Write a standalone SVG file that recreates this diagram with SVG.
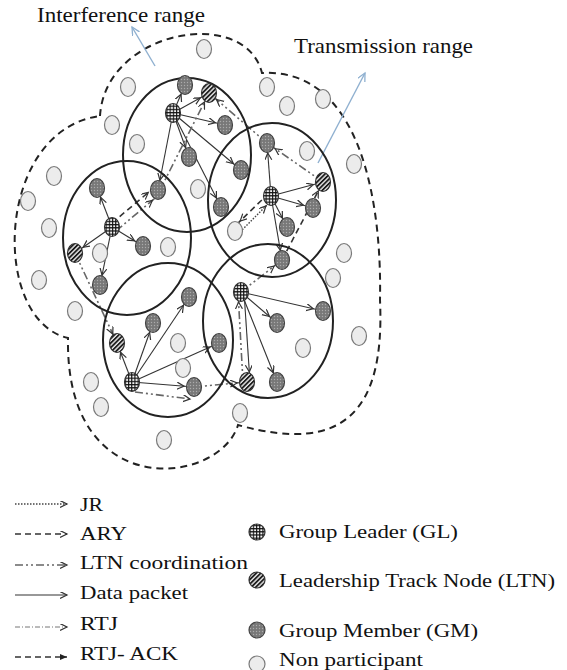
<svg xmlns="http://www.w3.org/2000/svg" width="567" height="670" viewBox="0 0 567 670">
<style>
.np{fill:#ececec;stroke:#7a7a7a;stroke-width:1.2}
.gm{fill:url(#pGM);stroke:#444;stroke-width:1.2}
.gl{fill:url(#pGL);stroke:#333;stroke-width:1.2}
.ltn{fill:url(#pLTN);stroke:#333;stroke-width:1.2}
.cl{fill:none;stroke:#222;stroke-width:2}
.s{stroke:#333;stroke-width:1.1;fill:none}
.d{stroke:#333;stroke-width:1.6;stroke-dasharray:6 4;fill:none}
.dd{stroke:#666;stroke-width:1.6;stroke-dasharray:8 3 2 3 2 3;fill:none}
.jr{stroke:#444;stroke-width:1.4;stroke-dasharray:1.5 1.5;fill:none}
.rtj{stroke:#777;stroke-width:1;stroke-dasharray:5 2 1 2;fill:none}
.blue{stroke:#8fb0d0;stroke-width:1.4;fill:none}
text{font-family:"Liberation Serif","Times New Roman",serif;fill:#111}
.t1{font-size:21px}
.t2{font-size:19.5px}
</style>
<defs>
<pattern id="pGL" width="3.2" height="3.2" patternUnits="userSpaceOnUse"><rect width="3.2" height="3.2" fill="#f4f4f4"/><path d="M0,0.5H3.2M0.5,0V3.2" stroke="#111" stroke-width="1.2"/></pattern>
<pattern id="pLTN" width="3.2" height="3.2" patternUnits="userSpaceOnUse" patternTransform="rotate(45)"><rect width="3.2" height="3.2" fill="#e8e8e8"/><path d="M0.9,0V3.2" stroke="#1a1a1a" stroke-width="1.8"/></pattern>
<pattern id="pGM" width="3" height="3" patternUnits="userSpaceOnUse"><rect width="3" height="3" fill="#787878"/><circle cx="1.5" cy="1.5" r="0.7" fill="#ababab"/></pattern>
<marker id="a" markerUnits="userSpaceOnUse" markerWidth="20" markerHeight="8" refX="17" refY="3.5" orient="auto"><path d="M0,0L7,3.5L0,7" fill="none" stroke="#333" stroke-width="1.2"/></marker>
<marker id="a0" markerUnits="userSpaceOnUse" markerWidth="9" markerHeight="8" refX="7" refY="3.5" orient="auto"><path d="M0,0L7,3.5L0,7" fill="none" stroke="#333" stroke-width="1.2"/></marker>
<marker id="af" markerUnits="userSpaceOnUse" markerWidth="9" markerHeight="8" refX="7" refY="3.5" orient="auto"><path d="M0,0.5L7,3.5L0,6.5Z" fill="#222"/></marker>
<marker id="ab" markerUnits="userSpaceOnUse" markerWidth="10" markerHeight="10" refX="8" refY="4" orient="auto"><path d="M0,0L8,4L0,8" fill="none" stroke="#8fb0d0" stroke-width="1.3"/></marker>
</defs>
<rect width="567" height="670" fill="#fff"/>

<g id="interference-boundary">
<path d="M100,116 C105,30 245,5 262,73 C360,68 382,200 380,300 C385,410 345,455 238,425 C220,485 65,505 68,338 C-10,320 -5,130 100,116 Z" fill="none" stroke="#222" stroke-width="2" stroke-dasharray="7 5"/>
</g>

<g id="annotations" font-family="'Liberation Serif', 'Times New Roman', serif">
<line class="blue" x1="155" y1="66" x2="132" y2="27" marker-end="url(#ab)"/>
<line class="blue" x1="318" y1="163" x2="365" y2="73" marker-end="url(#ab)"/>
<text class="t1" x="37" y="22" textLength="168" lengthAdjust="spacingAndGlyphs">Interference range</text>
<text class="t1" x="294" y="53" textLength="179" lengthAdjust="spacingAndGlyphs">Transmission range</text>
</g>

<g id="connectors">
<g marker-end="url(#a)">
<line class="s" x1="173" y1="113" x2="185" y2="85"/>
<line class="s" x1="173" y1="113" x2="209" y2="93"/>
<line class="s" x1="173" y1="113" x2="225" y2="125"/>
<line class="s" x1="173" y1="113" x2="189" y2="157"/>
<line class="s" x1="173" y1="113" x2="241" y2="170"/>
<line class="s" x1="173" y1="113" x2="221" y2="207"/>
<line class="s" x1="173" y1="113" x2="158" y2="190"/>
<line class="s" x1="112" y1="227" x2="97" y2="188"/>
<line class="s" x1="112" y1="227" x2="143" y2="246"/>
<line class="s" x1="112" y1="227" x2="75" y2="253"/>
<line class="s" x1="112" y1="227" x2="100" y2="285"/>
<line class="s" x1="271" y1="196" x2="267" y2="143"/>
<line class="s" x1="271" y1="196" x2="323" y2="182"/>
<line class="s" x1="271" y1="196" x2="313" y2="208"/>
<line class="s" x1="271" y1="196" x2="287" y2="227"/>
<line class="s" x1="271" y1="196" x2="282" y2="260"/>
<line class="s" x1="132" y1="382" x2="117" y2="343"/>
<line class="s" x1="132" y1="382" x2="153" y2="323"/>
<line class="s" x1="132" y1="382" x2="189" y2="297"/>
<line class="s" x1="132" y1="382" x2="219" y2="343"/>
<line class="s" x1="132" y1="382" x2="194" y2="387"/>
<line class="s" x1="241" y1="292" x2="323" y2="311"/>
<line class="s" x1="241" y1="292" x2="277" y2="323"/>
<line class="s" x1="241" y1="292" x2="277" y2="382"/>
<line class="s" x1="244" y1="292" x2="250" y2="382"/>
<line class="d" x1="112" y1="223" x2="156" y2="186"/>
<line class="d" x1="269" y1="193" x2="233" y2="228"/>
<line class="d" x1="282" y1="260" x2="323" y2="182"/>
<line class="jr" x1="238" y1="234" x2="273" y2="199"/>
<line class="dd" x1="116" y1="231" x2="160" y2="194"/>
<line class="dd" x1="160" y1="190" x2="209" y2="93"/>
<line class="dd" x1="267" y1="143" x2="209" y2="93"/>
<line class="dd" x1="323" y1="182" x2="267" y2="143"/>
<line class="dd" x1="75" y1="253" x2="117" y2="343"/>
<line class="dd" x1="243" y1="382" x2="238" y2="292"/>
<line class="dd" x1="241" y1="292" x2="282" y2="260"/>
<line class="dd" x1="194" y1="387" x2="247" y2="382"/>
</g>
<line class="dd" x1="135" y1="392" x2="190" y2="399" marker-end="url(#a0)"/>
</g>

<g id="clusters">
<ellipse class="cl" cx="187" cy="155" rx="64" ry="77"/>
<ellipse class="cl" cx="127" cy="238" rx="64" ry="77"/>
<ellipse class="cl" cx="272" cy="200" rx="64" ry="77"/>
<ellipse class="cl" cx="168" cy="340" rx="65" ry="77"/>
<ellipse class="cl" cx="268" cy="321" rx="65" ry="77"/>
</g>

<g id="nodes">
<g id="np1"><ellipse class="np" cx="204" cy="49" rx="7.5" ry="9.5"/></g>
<g id="np2"><ellipse class="np" cx="128" cy="87" rx="7.5" ry="9.5"/></g>
<g id="np3"><ellipse class="np" cx="112" cy="125" rx="7.5" ry="9.5"/></g>
<g id="np4"><ellipse class="np" cx="137" cy="144" rx="7.5" ry="9.5"/></g>
<g id="np5"><ellipse class="np" cx="54" cy="176" rx="7.5" ry="9.5"/></g>
<g id="np6"><ellipse class="np" cx="28" cy="201" rx="7.5" ry="9.5"/></g>
<g id="np7"><ellipse class="np" cx="49" cy="228" rx="7.5" ry="9.5"/></g>
<g id="np8"><ellipse class="np" cx="198" cy="189" rx="7.5" ry="9.5"/></g>
<g id="np9"><ellipse class="np" cx="267" cy="87" rx="7.5" ry="9.5"/></g>
<g id="np10"><ellipse class="np" cx="287" cy="106" rx="7.5" ry="9.5"/></g>
<g id="np11"><ellipse class="np" cx="323" cy="99" rx="7.5" ry="9.5"/></g>
<g id="np12"><ellipse class="np" cx="307" cy="151" rx="7.5" ry="9.5"/></g>
<g id="np13"><ellipse class="np" cx="354" cy="164" rx="7.5" ry="9.5"/></g>
<g id="np14"><ellipse class="np" cx="235" cy="231" rx="7.5" ry="9.5"/></g>
<g id="np15"><ellipse class="np" cx="168" cy="247" rx="7.5" ry="9.5"/></g>
<g id="np16"><ellipse class="np" cx="100" cy="253" rx="7.5" ry="9.5"/></g>
<g id="np17"><ellipse class="np" cx="39" cy="280" rx="7.5" ry="9.5"/></g>
<g id="np18"><ellipse class="np" cx="75" cy="311" rx="7.5" ry="9.5"/></g>
<g id="np19"><ellipse class="np" cx="91" cy="382" rx="7.5" ry="9.5"/></g>
<g id="np20"><ellipse class="np" cx="101" cy="407" rx="7.5" ry="9.5"/></g>
<g id="np21"><ellipse class="np" cx="164" cy="440" rx="7.5" ry="9.5"/></g>
<g id="np22"><ellipse class="np" cx="178" cy="343" rx="7.5" ry="9.5"/></g>
<g id="np23"><ellipse class="np" cx="183" cy="368" rx="7.5" ry="9.5"/></g>
<g id="np24"><ellipse class="np" cx="240" cy="413" rx="7.5" ry="9.5"/></g>
<g id="np25"><ellipse class="np" cx="344" cy="253" rx="7.5" ry="9.5"/></g>
<g id="np26"><ellipse class="np" cx="333" cy="278" rx="7.5" ry="9.5"/></g>
<g id="np27"><ellipse class="np" cx="359" cy="336" rx="7.5" ry="9.5"/></g>
<g id="np28"><ellipse class="np" cx="303" cy="348" rx="7.5" ry="9.5"/></g>

<g id="gm1"><ellipse class="gm" cx="185" cy="85" rx="7.5" ry="9.5"/></g>
<g id="gm2"><ellipse class="gm" cx="225" cy="125" rx="7.5" ry="9.5"/></g>
<g id="gm3"><ellipse class="gm" cx="189" cy="157" rx="7.5" ry="9.5"/></g>
<g id="gm4"><ellipse class="gm" cx="241" cy="170" rx="7.5" ry="9.5"/></g>
<g id="gm5"><ellipse class="gm" cx="221" cy="207" rx="7.5" ry="9.5"/></g>
<g id="gm6"><ellipse class="gm" cx="158" cy="190" rx="7.5" ry="9.5"/></g>
<g id="gm7"><ellipse class="gm" cx="97" cy="188" rx="7.5" ry="9.5"/></g>
<g id="gm8"><ellipse class="gm" cx="143" cy="246" rx="7.5" ry="9.5"/></g>
<g id="gm9"><ellipse class="gm" cx="100" cy="285" rx="7.5" ry="9.5"/></g>
<g id="gm10"><ellipse class="gm" cx="267" cy="143" rx="7.5" ry="9.5"/></g>
<g id="gm11"><ellipse class="gm" cx="313" cy="208" rx="7.5" ry="9.5"/></g>
<g id="gm12"><ellipse class="gm" cx="287" cy="227" rx="7.5" ry="9.5"/></g>
<g id="gm13"><ellipse class="gm" cx="282" cy="260" rx="7.5" ry="9.5"/></g>
<g id="gm14"><ellipse class="gm" cx="153" cy="323" rx="7.5" ry="9.5"/></g>
<g id="gm15"><ellipse class="gm" cx="189" cy="297" rx="7.5" ry="9.5"/></g>
<g id="gm16"><ellipse class="gm" cx="219" cy="343" rx="7.5" ry="9.5"/></g>
<g id="gm17"><ellipse class="gm" cx="194" cy="387" rx="7.5" ry="9.5"/></g>
<g id="gm18"><ellipse class="gm" cx="277" cy="323" rx="7.5" ry="9.5"/></g>
<g id="gm19"><ellipse class="gm" cx="323" cy="311" rx="7.5" ry="9.5"/></g>
<g id="gm20"><ellipse class="gm" cx="277" cy="382" rx="7.5" ry="9.5"/></g>

<g id="ltn1"><ellipse class="ltn" cx="209" cy="93" rx="7.5" ry="9.5"/></g>
<g id="ltn2"><ellipse class="ltn" cx="75" cy="253" rx="7.5" ry="9.5"/></g>
<g id="ltn3"><ellipse class="ltn" cx="323" cy="182" rx="7.5" ry="9.5"/></g>
<g id="ltn4"><ellipse class="ltn" cx="117" cy="343" rx="7.5" ry="9.5"/></g>
<g id="ltn5"><ellipse class="ltn" cx="247" cy="382" rx="7.5" ry="9.5"/></g>

<g id="gl1"><ellipse class="gl" cx="173" cy="113" rx="7.5" ry="9.5"/></g>
<g id="gl2"><ellipse class="gl" cx="112" cy="227" rx="7.5" ry="9.5"/></g>
<g id="gl3"><ellipse class="gl" cx="271" cy="196" rx="7.5" ry="9.5"/></g>
<g id="gl4"><ellipse class="gl" cx="132" cy="382" rx="7.5" ry="9.5"/></g>
<g id="gl5"><ellipse class="gl" cx="241" cy="292" rx="7.5" ry="9.5"/></g>
</g>

<g id="legend-lines" font-family="'Liberation Serif', 'Times New Roman', serif">
<line class="jr" x1="15" y1="504" x2="67" y2="504" marker-end="url(#a0)"/>
<line class="d" x1="15" y1="534" x2="67" y2="534" stroke-width="2" marker-end="url(#a0)"/>
<line class="dd" x1="15" y1="565" x2="67" y2="565" marker-end="url(#a0)"/>
<line class="s" x1="15" y1="595" x2="67" y2="595" marker-end="url(#a0)"/>
<line class="rtj" x1="15" y1="627" x2="67" y2="627" marker-end="url(#a0)"/>
<line class="d" x1="15" y1="657" x2="67" y2="657" marker-end="url(#af)"/>
<text class="t2" x="80" y="511" textLength="23" lengthAdjust="spacingAndGlyphs">JR</text>
<text class="t2" x="80" y="540" textLength="47" lengthAdjust="spacingAndGlyphs">ARY</text>
<text class="t2" x="80" y="569" textLength="168" lengthAdjust="spacingAndGlyphs">LTN coordination</text>
<text class="t2" x="80" y="599" textLength="108" lengthAdjust="spacingAndGlyphs">Data packet</text>
<text class="t2" x="80" y="630" textLength="38" lengthAdjust="spacingAndGlyphs">RTJ</text>
<text class="t2" x="80" y="660" textLength="98" lengthAdjust="spacingAndGlyphs">RTJ- ACK</text>
</g>

<g id="legend-nodes" font-family="'Liberation Serif', 'Times New Roman', serif">
<circle class="gl" cx="257" cy="532" r="8"/>
<circle class="ltn" cx="257" cy="580" r="8"/>
<circle class="gm" cx="257" cy="630" r="8"/>
<circle class="np" cx="257" cy="664" r="8"/>
<text class="t2" x="279" y="538" textLength="179" lengthAdjust="spacingAndGlyphs">Group Leader (GL)</text>
<text class="t2" x="279" y="587" textLength="276" lengthAdjust="spacingAndGlyphs">Leadership Track Node (LTN)</text>
<text class="t2" x="279" y="637" textLength="199" lengthAdjust="spacingAndGlyphs">Group Member (GM)</text>
<text class="t2" x="279" y="666" textLength="144" lengthAdjust="spacingAndGlyphs">Non participant</text>
</g>
</svg>
